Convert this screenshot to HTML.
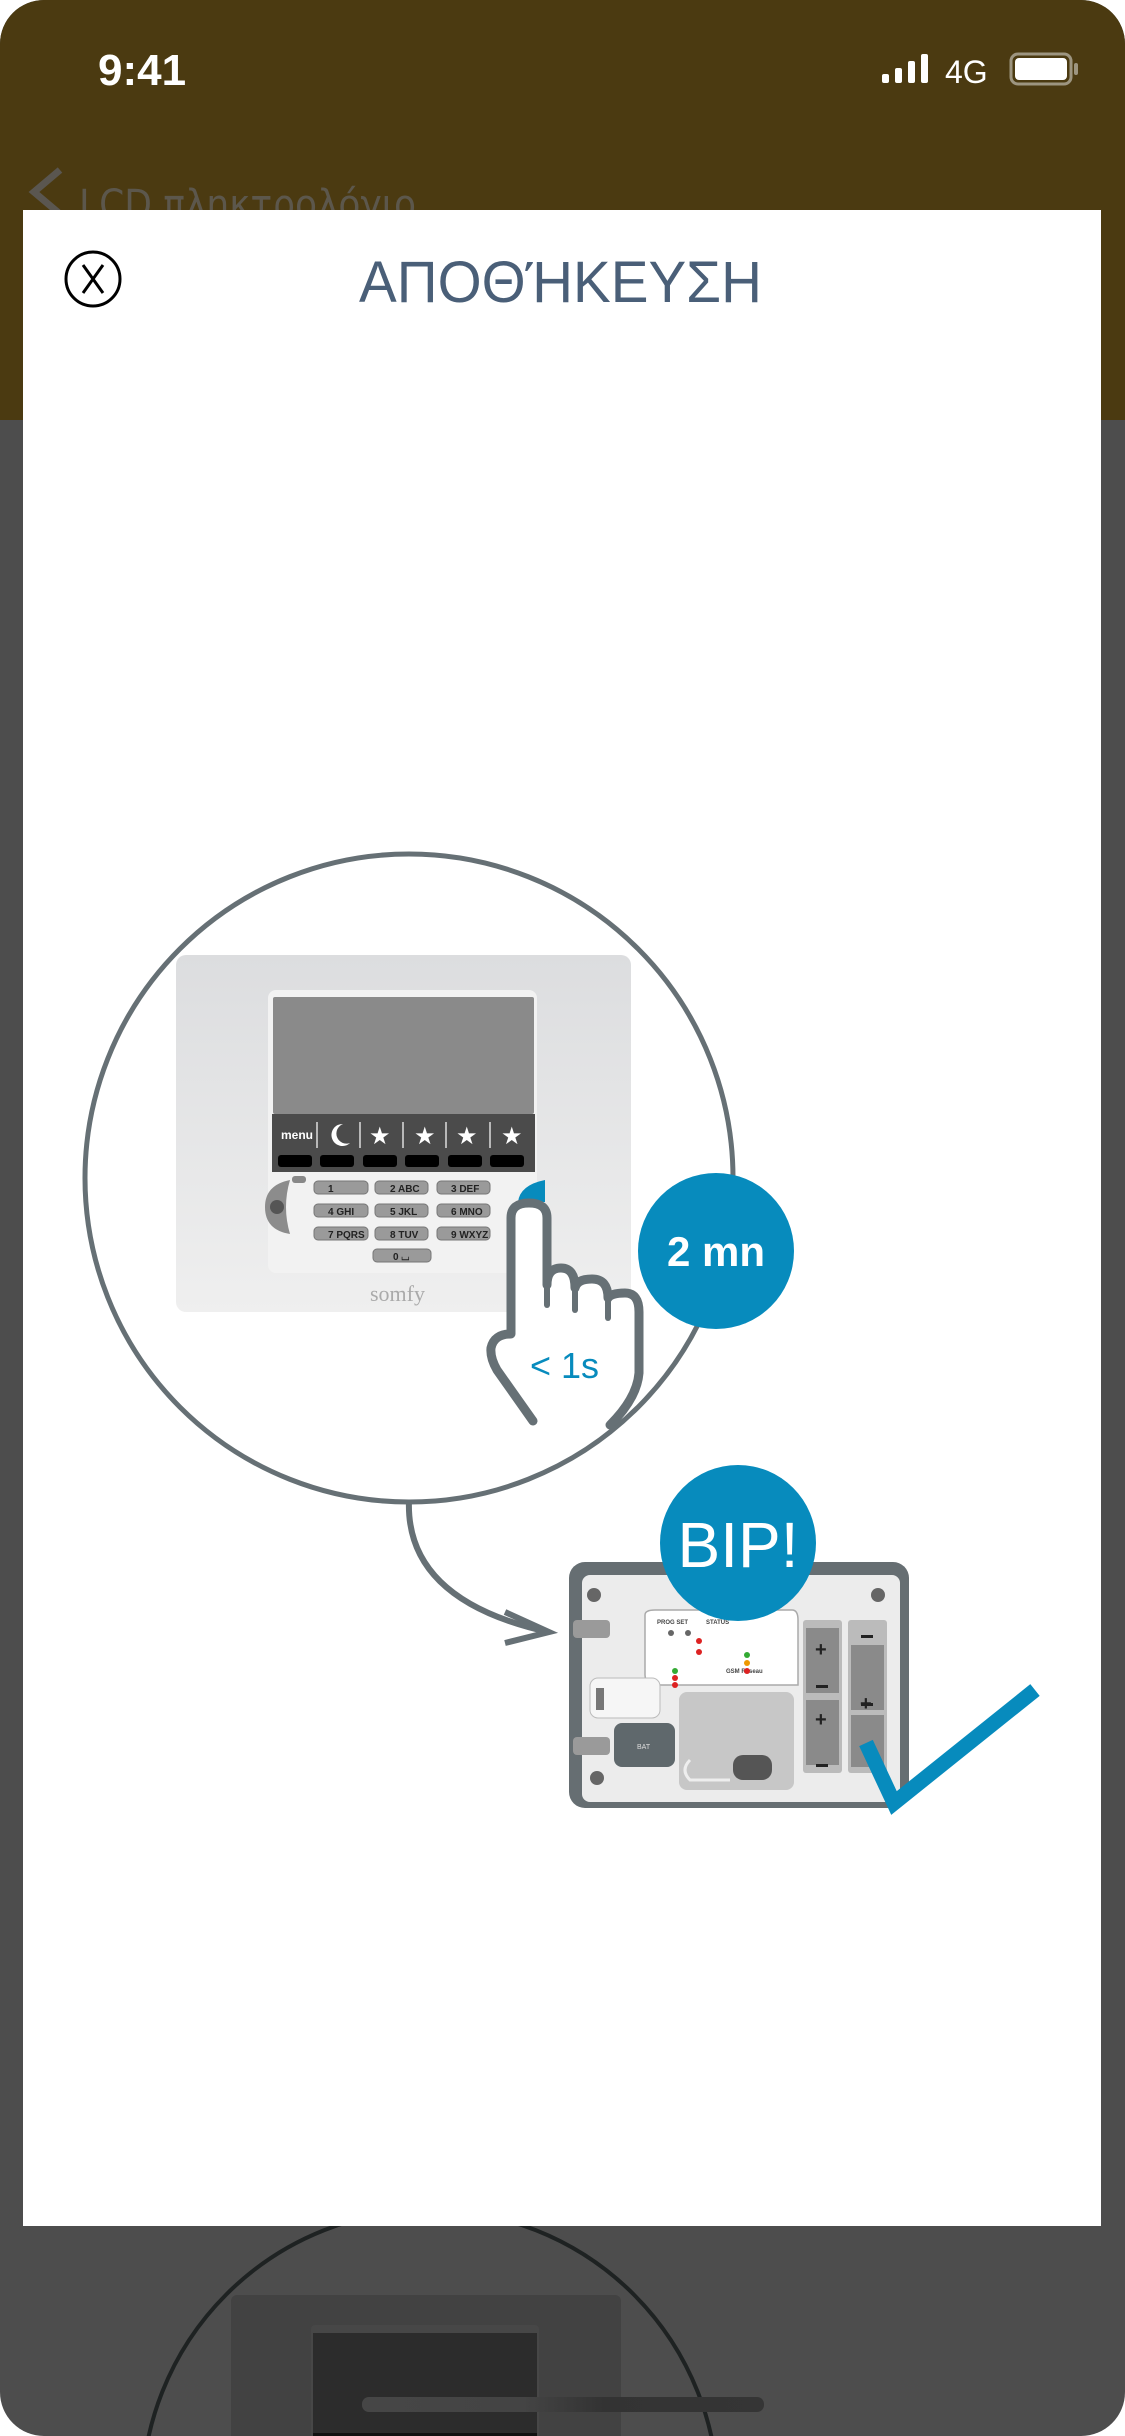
<!DOCTYPE html>
<html><head><meta charset="utf-8"><style>
html,body{margin:0;padding:0;background:#fff;width:1125px;height:2436px;overflow:hidden;}
svg{display:block;}
</style></head><body>
<svg width="1125" height="2436" viewBox="0 0 1125 2436" xmlns="http://www.w3.org/2000/svg" font-family="Liberation Sans, DejaVu Sans, sans-serif">
<defs>
<clipPath id="page"><rect x="0" y="0" width="1125" height="2436" rx="44"/></clipPath>
<linearGradient id="dev" x1="0" y1="0" x2="0" y2="1"><stop offset="0" stop-color="#dcdddf"/><stop offset="1" stop-color="#efefef"/></linearGradient>
<linearGradient id="hi" x1="0" y1="0" x2="1" y2="0"><stop offset="0" stop-color="#464646"/><stop offset="0.4" stop-color="#444"/><stop offset="0.6" stop-color="#333"/><stop offset="1" stop-color="#353535"/></linearGradient>
</defs>
<g clip-path="url(#page)">
<rect x="0" y="0" width="1125" height="2436" fill="#4d4d4d"/>
<rect x="0" y="0" width="1125" height="420" fill="#4b3a11"/>
<text x="98" y="85" font-size="44" font-weight="bold" fill="#fff">9:41</text>
<rect x="882" y="74" width="7" height="9" rx="2" fill="#fff"/>
<rect x="895" y="68" width="7" height="15" rx="2" fill="#fff"/>
<rect x="908" y="61" width="7" height="22" rx="2" fill="#fff"/>
<rect x="921" y="54" width="7" height="29" rx="2" fill="#fff"/>
<text x="945" y="83" font-size="32" fill="#fff">4G</text>
<rect x="1011" y="54" width="60" height="30" rx="7" fill="none" stroke="#9d9580" stroke-width="3"/>
<rect x="1015" y="58" width="52" height="22" rx="4" fill="#fff"/>
<rect x="1074" y="63" width="4" height="12" rx="2" fill="#9d9580"/>
<path d="M60 170 L34 192 L60 214" fill="none" stroke="#5a5650" stroke-width="7"/>
<text x="79" y="218" font-size="40" fill="#5c574c" font-family="DejaVu Sans, sans-serif" textLength="337" lengthAdjust="spacingAndGlyphs">LCD πληκτρολόγιο</text>
<rect x="231" y="2295" width="390" height="160" rx="6" fill="#424242"/>
<rect x="311" y="2325" width="228" height="130" rx="4" fill="#474747"/>
<rect x="313" y="2333" width="224" height="100" fill="#2c2c2c"/>
<rect x="313" y="2433" width="224" height="10" fill="#111"/>
<circle cx="430" cy="2498" r="288" fill="none" stroke="#1e2222" stroke-width="4"/>
<rect x="362" y="2397" width="402" height="15" rx="7" fill="url(#hi)"/>
<rect x="23" y="210" width="1078" height="2016" fill="#fff"/>
<circle cx="93" cy="279" r="27" fill="none" stroke="#000" stroke-width="3"/>
<path d="M83 265 L103 293 M103 265 L83 293" stroke="#000" stroke-width="3"/>
<text x="359" y="302" font-size="58" fill="#4a5f78" textLength="403" lengthAdjust="spacingAndGlyphs">ΑΠΟΘΉΚΕΥΣΗ</text>
<circle cx="409" cy="1178" r="324" fill="none" stroke="#667075" stroke-width="5"/>
<rect x="176" y="955" width="455" height="357" rx="10" fill="url(#dev)"/>
<rect x="268" y="990" width="269" height="283" rx="8" fill="#f2f2f2"/>
<rect x="273" y="997" width="261" height="117" rx="2" fill="#8a8a8a"/>
<rect x="272" y="1114" width="263" height="58" fill="#4b4b4b"/>
<text x="281" y="1139" font-size="12" font-weight="bold" fill="#fff">menu</text>
<g stroke="#ddd" stroke-width="1.5"><line x1="317" y1="1122" x2="317" y2="1148"/><line x1="360" y1="1122" x2="360" y2="1148"/><line x1="403" y1="1122" x2="403" y2="1148"/><line x1="446" y1="1122" x2="446" y2="1148"/><line x1="490" y1="1122" x2="490" y2="1148"/></g>
<path d="M343 1124 A11 11 0 1 0 350 1143 A9 9 0 0 1 343 1124 Z" fill="#fff"/>
<g fill="#fff" font-size="24" font-family="DejaVu Sans, sans-serif">
<text x="369" y="1144">★</text><text x="414" y="1144">★</text><text x="456" y="1144">★</text><text x="501" y="1144">★</text></g>
<g fill="#000">
<rect x="278" y="1155" width="34" height="12" rx="3"/><rect x="320" y="1155" width="34" height="12" rx="3"/><rect x="363" y="1155" width="34" height="12" rx="3"/><rect x="405" y="1155" width="34" height="12" rx="3"/><rect x="448" y="1155" width="34" height="12" rx="3"/><rect x="490" y="1155" width="34" height="12" rx="3"/></g>
<rect x="292" y="1176" width="14" height="7" rx="3" fill="#888"/>
<g fill="#9a9a9a" stroke="#777" stroke-width="1">
<rect x="314" y="1181" width="54" height="13" rx="4"/><rect x="375" y="1181" width="53" height="13" rx="4"/><rect x="437" y="1181" width="53" height="13" rx="4"/>
<rect x="314" y="1204" width="54" height="13" rx="4"/><rect x="375" y="1204" width="53" height="13" rx="4"/><rect x="437" y="1204" width="53" height="13" rx="4"/>
<rect x="314" y="1227" width="54" height="13" rx="4"/><rect x="375" y="1227" width="53" height="13" rx="4"/><rect x="437" y="1227" width="53" height="13" rx="4"/>
<rect x="373" y="1249" width="58" height="13" rx="4"/></g>
<g font-size="10" fill="#222" font-weight="bold">
<text x="328" y="1192">1</text><text x="390" y="1192">2 ABC</text><text x="451" y="1192">3 DEF</text>
<text x="328" y="1215">4 GHI</text><text x="390" y="1215">5 JKL</text><text x="451" y="1215">6 MNO</text>
<text x="328" y="1238">7 PQRS</text><text x="390" y="1238">8 TUV</text><text x="451" y="1238">9 WXYZ</text>
<text x="393" y="1260">0 ⌴</text></g>
<path d="M290 1180 Q265 1185 265 1207 Q265 1230 290 1234 Q282 1207 290 1180 Z" fill="#8c8c8c"/>
<circle cx="277" cy="1207" r="7" fill="#555"/>
<path d="M545 1180 Q520 1185 518 1202 L545 1202 Z" fill="#078bbd"/>
<text x="370" y="1301" font-size="22" fill="#aaa" font-family="Liberation Serif, serif">somfy</text>
<path d="M533 1421 L497 1370 Q490 1358 491 1348 Q494 1334 511 1334 L511 1218 Q511 1203 529 1203 Q547 1203 547 1218 L547 1285 Q547 1268 561 1268 Q575 1268 575 1288 Q577 1279 592 1279 Q608 1279 608 1298 Q611 1293 625 1293 Q639 1293 639 1312 L639 1373 Q637 1398 610 1425" fill="#fff" stroke="#667075" stroke-width="9" stroke-linejoin="round" stroke-linecap="round"/>
<g stroke="#667075" stroke-width="6" stroke-linecap="round"><line x1="547" y1="1285" x2="547" y2="1305"/><line x1="575" y1="1288" x2="575" y2="1310"/><line x1="608" y1="1298" x2="608" y2="1318"/></g>
<text x="530" y="1378" font-size="36" fill="#078bbd">&lt; 1s</text>
<circle cx="716" cy="1251" r="78" fill="#078bbd"/>
<text x="716" y="1266" font-size="42" font-weight="bold" fill="#fff" text-anchor="middle">2 mn</text>
<path d="M409 1500 Q405 1600 548 1632" fill="none" stroke="#667075" stroke-width="6"/>
<path d="M505 1612 L549 1632 L505 1643" fill="none" stroke="#667075" stroke-width="6"/>
<rect x="569" y="1562" width="340" height="246" rx="16" fill="#666e72"/>
<rect x="582" y="1575" width="318" height="227" rx="8" fill="#ececec"/>
<rect x="573" y="1620" width="37" height="18" rx="4" fill="#9a9a9a"/>
<rect x="573" y="1737" width="37" height="18" rx="4" fill="#9a9a9a"/>
<circle cx="594" cy="1595" r="7" fill="#666"/><circle cx="878" cy="1595" r="7" fill="#666"/><circle cx="597" cy="1778" r="7" fill="#666"/>
<path d="M645 1615 Q645 1610 655 1610 L792 1610 Q798 1610 798 1620 L798 1685 L662 1685 Q645 1685 645 1675 Z" fill="#fff" stroke="#aaa" stroke-width="1.5"/>
<g fill="#444" font-size="6" font-weight="bold"><text x="657" y="1624">PROG SET</text><text x="706" y="1624">STATUS</text><text x="726" y="1673">GSM Reseau</text></g>
<g><circle cx="671" cy="1633" r="3" fill="#666"/><circle cx="688" cy="1633" r="3" fill="#666"/><circle cx="699" cy="1641" r="3" fill="#d22"/><circle cx="699" cy="1652" r="3" fill="#d22"/><circle cx="747" cy="1655" r="3" fill="#3a3"/><circle cx="747" cy="1663" r="3" fill="#e90"/><circle cx="747" cy="1671" r="3" fill="#d22"/><circle cx="675" cy="1671" r="3" fill="#3a3"/><circle cx="675" cy="1678" r="3" fill="#d22"/><circle cx="675" cy="1685" r="3" fill="#d22"/></g>
<rect x="590" y="1678" width="70" height="40" rx="8" fill="#f6f6f6" stroke="#bbb"/>
<rect x="596" y="1688" width="8" height="22" fill="#777"/>
<rect x="679" y="1692" width="115" height="98" rx="8" fill="#c7c7c7"/>
<path d="M690 1760 Q680 1770 690 1780 L730 1780" fill="none" stroke="#eee" stroke-width="3"/>
<rect x="733" y="1755" width="39" height="25" rx="10" fill="#555"/>
<rect x="614" y="1723" width="61" height="44" rx="8" fill="#5f686c"/>
<text x="637" y="1749" font-size="7" fill="#ddd">BAT</text>
<rect x="803" y="1620" width="39" height="153" rx="3" fill="#bbb"/>
<rect x="848" y="1620" width="39" height="153" rx="3" fill="#bbb"/>
<rect x="806" y="1628" width="33" height="65" fill="#8a8a8a"/><rect x="806" y="1700" width="33" height="65" fill="#8a8a8a"/>
<rect x="851" y="1645" width="33" height="65" fill="#8a8a8a"/><rect x="851" y="1715" width="33" height="52" fill="#8a8a8a"/>
<g font-size="20" font-weight="bold" fill="#222"><text x="815" y="1656">+</text><text x="815" y="1726">+</text><text x="860" y="1710">+</text></g>
<g fill="#222"><rect x="816" y="1685" width="12" height="3"/><rect x="816" y="1764" width="12" height="3"/><rect x="861" y="1635" width="12" height="3"/><rect x="861" y="1703" width="12" height="3"/></g>
<circle cx="738" cy="1543" r="78" fill="#078bbd"/>
<text x="738" y="1567" font-size="64" fill="#fff" text-anchor="middle">BIP!</text>
<path d="M866 1743 L894 1803 L1035 1690" fill="none" stroke="#078bbd" stroke-width="15"/>
</g>
</svg>
</body></html>
